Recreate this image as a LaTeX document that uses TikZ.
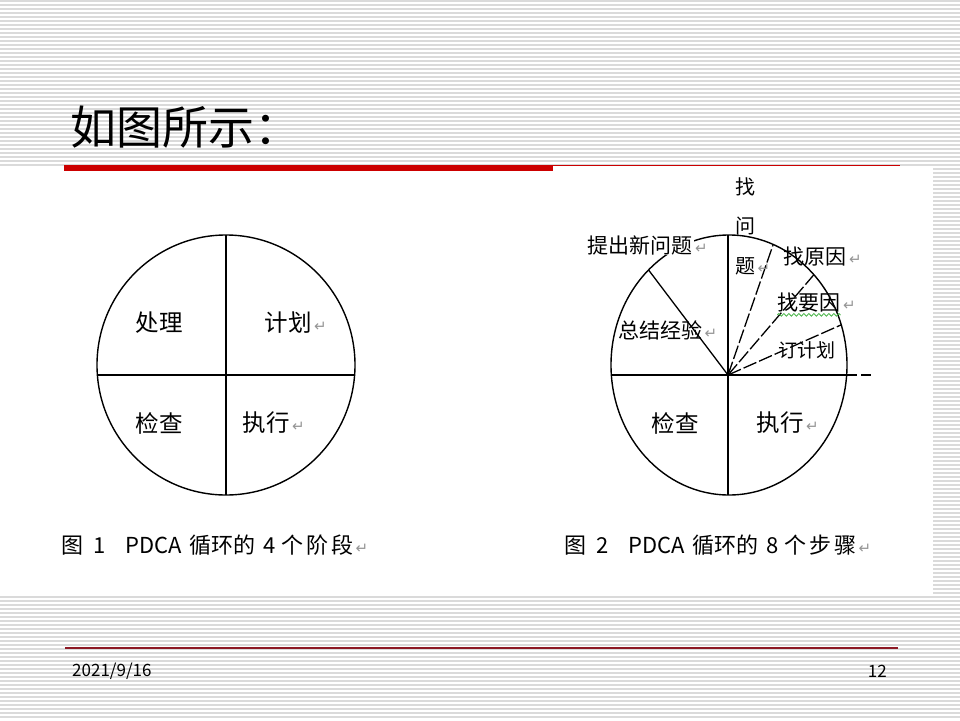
\documentclass[tikz,border=0pt]{standalone}
\usepackage{fontspec}
\setmainfont{Noto Sans CJK SC}
\newfontfamily\markfont{DejaVu Sans}
\usepackage{xcolor}
\definecolor{slRed}{RGB}{204,0,0}
\definecolor{slRedD}{RGB}{140,24,36}
\definecolor{slStripe}{RGB}{218,218,218}
\definecolor{slMark}{RGB}{150,150,150}
\definecolor{slGreen}{RGB}{70,180,70}
\usepackage{tikz}
\usetikzlibrary{positioning,calc,decorations.pathmorphing}
\newcommand{\pmark}{\rlap{\color{slMark}\markfont\fontsize{15}{15}\selectfont\,↵}}

\begin{document}
\begin{tikzpicture}[x=1pt,y=-1pt,
  stripe/.style={slStripe,line width=1.2pt},
  t1/.style={inner sep=0pt,font=\fontsize{23.5}{24}\selectfont},
  t2/.style={inner sep=0pt,font=\fontsize{21}{22}\selectfont},
  captext/.style={inner sep=0pt,anchor=west,font=\fontsize{22}{22}\selectfont},
  rim/.style={black,line width=1.4pt},
  spoke/.style={black,line width=1.3pt},
  dspoke/.style={spoke,dash pattern=on 14pt off 3pt},
  squig/.style={slGreen,line width=0.8pt,decorate,decoration={snake,amplitude=1.4pt,segment length=5pt}}]
  \useasboundingbox (0,0) rectangle (960,720);
  % slide background
  \foreach \k in {0,...,179}
    \draw[stripe] (0,{4*\k+1}) -- (960,{4*\k+1});
  \fill[white] (0,168) rectangle (933,596);
  \node[anchor=west,inner sep=0pt,font=\fontsize{46}{46}\selectfont] (title) at (70,127) {如图所示：};
  \fill[slRed] (64,165) rectangle (553,171);
  \draw[slRed,line width=1.2pt] (553,165.5) -- (900,165.5);

  % figure 1: four stages
  \coordinate (c1) at (226,365);
  \coordinate (n1) at (226,235);
  \coordinate (s1) at (226,495);
  \coordinate (w1) at (97,375);
  \coordinate (e1) at (355,375);
  \draw[rim] (c1) ellipse [x radius=129,y radius=130];
  \draw[spoke] (n1) -- (s1);
  \draw[spoke] (w1) -- (e1);
  \node[t1] (act) at (159,323) {处理};
  \node[t1] (plan) at (288,323) {计划\pmark};
  \node[t1] (chk) at (159,423) {检查};
  \node[t1] (do) at (266,423) {执行\pmark};
  \node[captext] (cap1) at (61,545) {图\hspace{10pt}1\hspace{20pt}PDCA\hspace{8pt}循环的\hspace{8pt}4\hspace{5pt}个\hspace{3pt}阶\hspace{3pt}段\pmark};

  % figure 2: eight steps
  \coordinate (c2) at (729,365);
  \coordinate (h2) at (728,375);
  \coordinate (n2) at (728,235);
  \coordinate (s2) at (728,495);
  \coordinate (w2) at (612,375);
  \coordinate (e2) at (847,375);
  \coordinate (x2) at (872,375);
  \coordinate (p1) at ($(c2)+(-133:118 and 130)$);
  \coordinate (p2) at ($(c2)+(-68:118 and 130)$);
  \coordinate (p3) at ($(c2)+(-44:118 and 130)$);
  \coordinate (p4) at ($(c2)+(-18:118 and 130)$);
  \draw[rim] (c2) ellipse [x radius=118,y radius=130];
  \draw[spoke] (n2) -- (s2);
  \draw[spoke] (w2) -- (e2);
  \draw[spoke,dash pattern=on 10pt off 4pt] (e2) -- (x2);
  \draw[spoke] (h2) -- (p1);
  \draw[dspoke] (h2) -- (p2);
  \draw[dspoke] (h2) -- (p3);
  \draw[dspoke] (h2) -- (p4);
  \node[t2,fill=white,inner xsep=1pt] (newq) at (640,245) {提出新问题\pmark};
  \node[t2,align=center,font=\fontsize{20}{39.5}\selectfont] (findq) at (745,226) {找\\问\\题\pmark};
  \node[t2] (cause) at (815,257) {找原因\pmark};
  \node[t2] (mcause) at (809,303) {找要因\pmark};
  \draw[squig] ([yshift=-2pt]mcause.south west) -- ([yshift=-2pt]mcause.south east);
  \node[t2,font=\fontsize{19}{20}\selectfont] (mkplan) at (807,350) {订计划};
  \node[t2] (sum) at (660,330) {总结经验\pmark};
  \node[t1] (chk2) at (675,423) {检查};
  \node[t1] (do2) at (780,423) {执行\pmark};
  \node[captext] (cap2) at (564,545) {图\hspace{10pt}2\hspace{20pt}PDCA\hspace{8pt}循环的\hspace{8pt}8\hspace{5pt}个\hspace{3pt}步\hspace{3pt}骤\pmark};

  % footer
  \draw[slRedD,line width=1.2pt] (65,648) -- (898,648);
  \node[anchor=west,inner sep=0pt,font=\fontsize{17}{17}\selectfont] (date) at (72,671) {2021/9/16};
  \node[anchor=east,inner sep=0pt,font=\fontsize{17}{17}\selectfont] (page) at (887,671) {12};
\end{tikzpicture}
\end{document}
